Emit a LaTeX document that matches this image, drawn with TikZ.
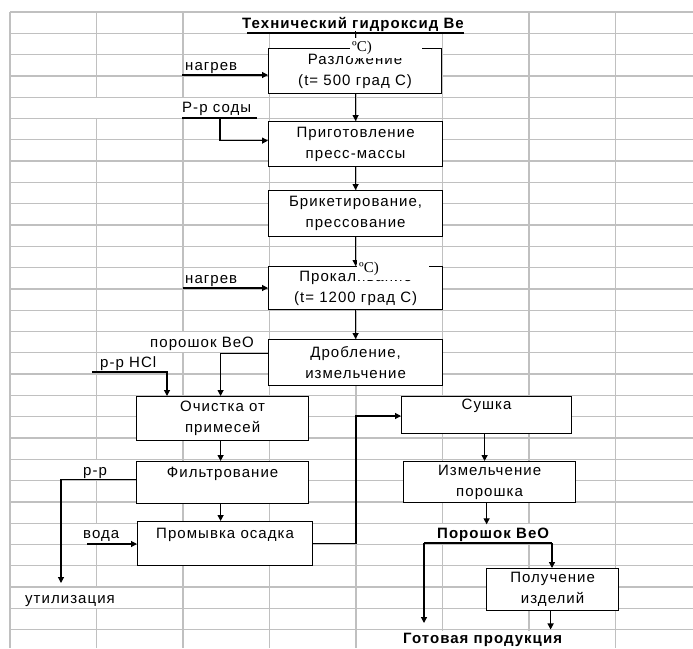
\documentclass[tikz,border=0pt]{standalone}
\usepackage{fontspec}
\setmainfont{Liberation Sans}[LetterSpace=7]
\newfontfamily\serifart{Liberation Serif}
\usetikzlibrary{arrows.meta}
\definecolor{gridc}{RGB}{192,192,192}
\begin{document}
\begin{tikzpicture}[x=1pt,y=-1pt,font=\fontsize{15}{21}\selectfont,
  gridline/.style={draw=gridc,line width=1.3pt},
  box/.style={draw=black,fill=white,line width=1.2pt,inner sep=0pt,align=center,anchor=north west},
  lbl/.style={inner sep=0pt,anchor=base west},
  blbl/.style={inner xsep=0pt,inner ysep=3pt,anchor=base west,font=\fontsize{15}{21}\selectfont\bfseries},
  ln/.style={line width=1.2pt},
  arr/.style={-{Triangle[length=6pt,width=6pt]},line width=1.2pt},
  art/.style={fill=white,inner xsep=2pt,inner ysep=0pt,anchor=north west,align=left,
    font=\serifart\fontsize{15}{15}\selectfont}]
\useasboundingbox (0,0) rectangle (693,648);
\fill[white] (0,0) rectangle (693,648);
% spreadsheet grid
\foreach \k in {0,...,29} \draw[gridline] (10,12+21.3*\k) -- (693,12+21.3*\k);
\foreach \i in {0,...,7} \draw[gridline] (10+86.5*\i,12) -- (10+86.5*\i,648);
% merged / overflow cells hide grid lines
\foreach \k/\i in {0/3,0/4,0/5,4/1,4/2,15/2,21/1,24/1,24/5,24/6,27/1,29/5,29/6}
  \fill[white] (10+86.5*\i-1.6,12+21.3*\k+0.8) rectangle (10+86.5*\i+1.6,12+21.3*\k+21.3-0.8);
% boxes
\node[box,minimum width=173pt,minimum height=45pt] (r1) at (268,48) {Разложение\\(t= 500 град С)};
\node[box,minimum width=174pt,minimum height=45pt] (r2) at (268,121) {Приготовление\\пресс-массы};
\node[box,minimum width=174pt,minimum height=46pt] (r3) at (268,190) {Брикетирование,\\прессование};
\node[box,minimum width=174pt,minimum height=43pt] (r4) at (268,266) {Прокаливание\\(t= 1200 град С)};
\node[box,minimum width=174pt,minimum height=46pt] (r5) at (268,339) {Дробление,\\измельчение};
\node[box,minimum width=172pt,minimum height=44pt] (r6) at (136,396) {Очистка от\\примесей};
\node[box,minimum width=172pt,minimum height=42pt] (r7) at (136,461) {Фильтрование\\\mbox{}};
\node[box,minimum width=175pt,minimum height=44pt] (r8) at (137,521) {Промывка осадка\\\mbox{}};
\node[box,minimum width=170pt,minimum height=37pt] (r9) at (401,396) {Сушка\\\mbox{}};
\node[box,minimum width=172pt,minimum height=41pt] (r10) at (403,461) {Измельчение\\порошка};
\node[box,minimum width=132pt,minimum height=42pt] (r11) at (486,568) {Получение\\изделий};
% labels
\node[lbl,font=\fontsize{15}{21}\selectfont\bfseries] (title) at (242,28) {Технический гидроксид Be};
\node[lbl] (nag1) at (185,70) {нагрев};
\node[lbl] (soda) at (182,112) {Р-р соды};
\node[lbl] (nag2) at (185,283) {нагрев};
\node[lbl] (powd) at (150,347) {порошок BeO};
\node[lbl] (hcl) at (100,367) {р-р HCl};
\node[lbl] (rr) at (83,475) {р-р};
\node[lbl] (vodat) at (83,538) {вода};
\node[lbl] (utilt) at (25,603) {утилизация};
\node[blbl] (bp) at (437,538) {Порошок BeO};
\node[blbl] (gp) at (403,643) {Готовая продукция};
% free ends
\coordinate (nag1in) at (182,75);
\coordinate (sodaL) at (182,118);
\coordinate (sodaR) at (257,118);
\coordinate (sodaV) at (220,118);
\coordinate (nag2in) at (183,288);
\coordinate (hclL) at (92,372);
\coordinate (hclV) at (167,372);
\coordinate (util) at (61,583);
\coordinate (voda) at (87,544);
\coordinate (jx) at (356,416);
\coordinate (sl) at (424,543);
\coordinate (sr) at (552,543);
\coordinate (gl) at (424,623);
% connectors
\draw[ln] ([xshift=5pt,yshift=-5pt]title.base west) -- ([yshift=-5pt]title.base east);
\draw[arr] (title.south -| r1.north) -- (r1.north);
\draw[arr] (nag1in) -- (nag1in -| r1.west);
\draw[arr] (r1.south -| r2.north) -- (r2.north);
\draw[ln] (sodaL) -- (sodaR);
\draw[arr] (sodaV) |- ([yshift=3.5pt]r2.west);
\draw[arr] (r2.south) -- (r3.north);
\draw[arr] (r3.south) -- (r4.north);
\draw[arr] (nag2in) -- (nag2in -| r4.west);
\draw[arr] (r4.south) -- (r5.north);
\draw[arr] ([yshift=9pt]r5.west) -| ([xshift=-2pt]r6.north);
\draw[arr] (hclL) -- (hclV) -- (hclV |- r6.north);
\draw[arr] ([xshift=-2pt]r6.south) -- ([xshift=-2pt]r7.north);
\draw[arr] ([yshift=3pt]r7.west) -| (util);
\draw[arr] ([xshift=-2pt]r7.south) -- ([xshift=-2pt]r7.south |- r8.north);
\draw[arr] (voda) -- (voda -| r8.west);
\draw[arr] (r8.east) -| (jx) -- (jx -| r9.west);
\draw[arr] ([xshift=-2pt]r9.south) -- ([xshift=-2pt]r9.south |- r10.north);
\draw[arr] ([xshift=-3pt]r10.south) -- ([xshift=-3pt]r10.south |- bp.north);
\draw[ln] (sl) -- (sr);
\draw[arr] (sl) -- (gl);
\draw[arr] (sr) -- (sr |- r11.north);
\draw[arr] ([xshift=-2pt]r11.south) -- ([xshift=-2pt]r11.south |- gp.north);
% overlapping text boxes (artefacts of the original)
\node[art,minimum width=72pt,minimum height=20pt,text width=68pt] (art1) at (350,38) {ºC)};
\node[art,minimum width=72pt,minimum height=22pt,text width=68pt] (art2) at (357,258) {ºC)};
\end{tikzpicture}
\end{document}
